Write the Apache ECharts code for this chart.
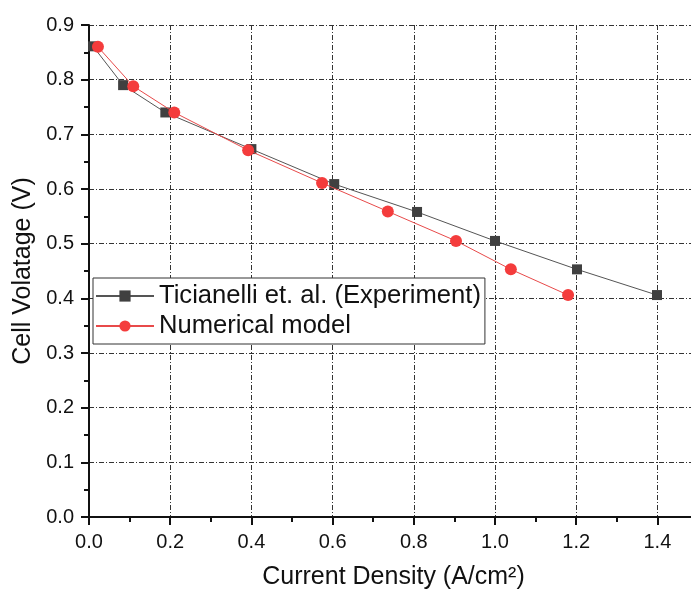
<!DOCTYPE html>
<html>
<head>
<meta charset="utf-8">
<script src="https://cdn.jsdelivr.net/npm/echarts@6/dist/echarts.min.js"></script>
<style>
  html, body { margin: 0; padding: 0; background: #fff; }
  #chart { width: 691px; height: 594px; }
</style>
</head>
<body>
<div id="chart"></div>
<script>
// Ticianelli experiment (black squares)
const expCurrent = [0.01, 0.084, 0.188, 0.40, 0.604, 0.808, 1.0, 1.202, 1.399]
const expVoltage = [0.861, 0.790, 0.740, 0.673, 0.609, 0.558, 0.505, 0.453, 0.406]
// numerical model (red circles)
const modelCurrent = [0.022, 0.109, 0.210, 0.392, 0.574, 0.736, 0.904, 1.039, 1.18]
const modelVoltage = [0.860, 0.788, 0.740, 0.671, 0.611, 0.559, 0.505, 0.453, 0.406]

const expName = 'Ticianelli et. al. (Experiment)'
const modelName = 'Numerical model'

const font = 'Liberation Sans, Arial, sans-serif'
const gridDash = [5, 2, 1, 2]

const chart = echarts.init(document.getElementById('chart'))

const pairs = (xs, ys) => xs.map((x, i) => [x, ys[i]])

chart.setOption({
  animation: false,
  backgroundColor: '#fff',
  // plot area runs a little past the right edge of the picture (axis ends at 1.5)
  grid: { left: 89, top: 25, width: 609, bottom: 77, outerBoundsMode: 'none' },
  legend: {
    left: 93,
    top: 278,
    orient: 'vertical',
    backgroundColor: '#fff',
    borderColor: '#333',
    borderWidth: 1,
    padding: [5, 4, 5, 2],
    itemWidth: 58,
    itemHeight: 14,
    itemGap: 4,
    textStyle: { fontFamily: font, fontSize: 25.6, lineHeight: 26, color: '#111' },
    data: [expName, modelName]
  },
  xAxis: [
    {
      type: 'value',
      min: 0,
      max: 1.5,
      interval: 0.2,
      name: 'Current Density (A/cm²)',
      nameLocation: 'middle',
      nameGap: 48,
      nameTextStyle: { fontFamily: font, fontSize: 25, color: '#111' },
      axisLine: { show: true, onZero: false, lineStyle: { color: '#111', width: 2 } },
      axisTick: { show: true, inside: false, length: 8, lineStyle: { color: '#111', width: 2 } },
      minorTick: { show: true, splitNumber: 2, length: 5, lineStyle: { color: '#111', width: 2 } },
      axisLabel: {
        showMaxLabel: false,
        margin: 15,
        fontFamily: font,
        fontSize: 20,
        color: '#111',
        formatter: v => v.toFixed(1)
      },
      splitLine: { show: true, lineStyle: { color: '#333', width: 1, type: gridDash } }
    },
    {
      // top frame line
      type: 'value',
      position: 'top',
      min: 0,
      max: 1.5,
      interval: 0.2,
      axisLine: { show: true, lineStyle: { color: '#111', width: 2 } },
      axisTick: { show: true, inside: true, length: 8, lineStyle: { color: '#111', width: 2 } },
      minorTick: { show: true, splitNumber: 2, length: 5, lineStyle: { color: '#111', width: 2 } },
      axisLabel: { show: false },
      splitLine: { show: false }
    }
  ],
  yAxis: {
    type: 'value',
    min: 0,
    max: 0.9,
    interval: 0.1,
    name: 'Cell Volatage (V)',
    nameLocation: 'middle',
    nameGap: 45,
    nameTextStyle: { fontFamily: font, fontSize: 25, color: '#111' },
    axisLine: { show: true, onZero: false, lineStyle: { color: '#111', width: 2 } },
    axisTick: { show: true, inside: false, length: 8, lineStyle: { color: '#111', width: 2 } },
    minorTick: { show: true, splitNumber: 2, length: 5, lineStyle: { color: '#111', width: 2 } },
    axisLabel: {
      margin: 15,
      fontFamily: font,
      fontSize: 20,
      color: '#111',
      formatter: v => v.toFixed(1)
    },
    splitLine: { show: true, lineStyle: { color: '#333', width: 1, type: gridDash } }
  },
  series: [
    {
      name: expName,
      type: 'line',
      data: pairs(expCurrent, expVoltage),
      symbol: 'rect',
      symbolSize: 10,
      itemStyle: { color: '#404040' },
      lineStyle: { color: '#555', width: 1 },
      z: 3
    },
    {
      name: modelName,
      type: 'line',
      data: pairs(modelCurrent, modelVoltage),
      symbol: 'circle',
      symbolSize: 12,
      itemStyle: { color: '#f43c3c' },
      lineStyle: { color: '#e84a4a', width: 1 },
      z: 4
    }
  ]
})
</script>
</body>
</html>
